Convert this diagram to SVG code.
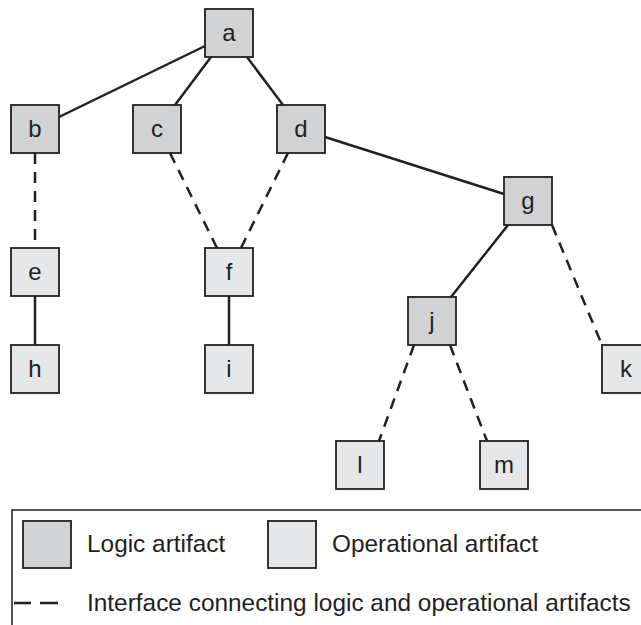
<svg xmlns="http://www.w3.org/2000/svg" width="641" height="625" viewBox="0 0 641 625">
<style>
.logic{fill:#d1d2d4;stroke:#231f20;stroke-width:1.8}
.oper{fill:#e6e7e8;stroke:#231f20;stroke-width:1.8}
.lbl{font-family:"Liberation Sans",Arial,sans-serif;font-size:24px;fill:#231f20;text-anchor:middle}
.leg{font-family:"Liberation Sans",Arial,sans-serif;font-size:24.4px;fill:#231f20}
.solid{stroke:#231f20;stroke-width:2.5;fill:none}
.dash{stroke:#231f20;stroke-width:2.5;fill:none;stroke-dasharray:11 8}
</style>
<rect width="641" height="625" fill="#ffffff"/>
<g id="connectors">
<line class="solid" x1="205" y1="46" x2="59" y2="117"/>
<line class="solid" x1="211" y1="57" x2="175" y2="105"/>
<line class="solid" x1="247" y1="57" x2="283" y2="105"/>
<line class="solid" x1="325" y1="137" x2="504" y2="194"/>
<line class="solid" x1="508" y1="225" x2="451" y2="297"/>
<line class="dash" x1="552" y1="225" x2="602" y2="345"/>
<line class="dash" x1="35" y1="153" x2="35" y2="248"/>
<line class="dash" x1="170" y1="153" x2="217" y2="248"/>
<line class="dash" x1="288" y1="153" x2="241" y2="248"/>
<line class="solid" x1="35" y1="296" x2="35" y2="345"/>
<line class="solid" x1="229" y1="296" x2="229" y2="345"/>
<line class="dash" x1="414" y1="345" x2="379" y2="441"/>
<line class="dash" x1="450" y1="345" x2="487" y2="441"/>
</g>
<g id="node-a"><rect class="logic" x="205" y="9" width="48" height="48"/><text class="lbl" x="229" y="41">a</text></g>
<g id="node-b"><rect class="logic" x="11" y="105" width="48" height="48"/><text class="lbl" x="35" y="137">b</text></g>
<g id="node-c"><rect class="logic" x="133" y="105" width="48" height="48"/><text class="lbl" x="157" y="137">c</text></g>
<g id="node-d"><rect class="logic" x="277" y="105" width="48" height="48"/><text class="lbl" x="301" y="137">d</text></g>
<g id="node-g"><rect class="logic" x="504" y="177" width="48" height="48"/><text class="lbl" x="528" y="209">g</text></g>
<g id="node-e"><rect class="oper" x="11" y="248" width="48" height="48"/><text class="lbl" x="35" y="280">e</text></g>
<g id="node-f"><rect class="oper" x="205" y="248" width="48" height="48"/><text class="lbl" x="229" y="280">f</text></g>
<g id="node-h"><rect class="oper" x="11" y="345" width="48" height="48"/><text class="lbl" x="35" y="377">h</text></g>
<g id="node-i"><rect class="oper" x="205" y="345" width="48" height="48"/><text class="lbl" x="229" y="377">i</text></g>
<g id="node-j"><rect class="logic" x="408" y="297" width="48" height="48"/><text class="lbl" x="432" y="329">j</text></g>
<g id="node-k"><rect class="oper" x="602" y="345" width="48" height="48"/><text class="lbl" x="626" y="377">k</text></g>
<g id="node-l"><rect class="oper" x="336" y="441" width="48" height="48"/><text class="lbl" x="360" y="473">l</text></g>
<g id="node-m"><rect class="oper" x="480" y="441" width="48" height="48"/><text class="lbl" x="504" y="473">m</text></g>
<g id="legend">
<rect x="12" y="510" width="640" height="130" fill="none" stroke="#231f20" stroke-width="1.5"/>
<rect class="logic" x="23" y="521" width="48" height="47"/>
<text class="leg" x="87" y="552">Logic artifact</text>
<rect class="oper" x="268" y="521" width="48" height="47"/>
<text class="leg" x="332" y="552">Operational artifact</text>
<line class="solid" x1="14" y1="603" x2="31" y2="603"/>
<line class="solid" x1="40" y1="603" x2="58" y2="603"/>
<text class="leg" x="87" y="611">Interface connecting logic and operational artifacts</text>
</g>
</svg>
